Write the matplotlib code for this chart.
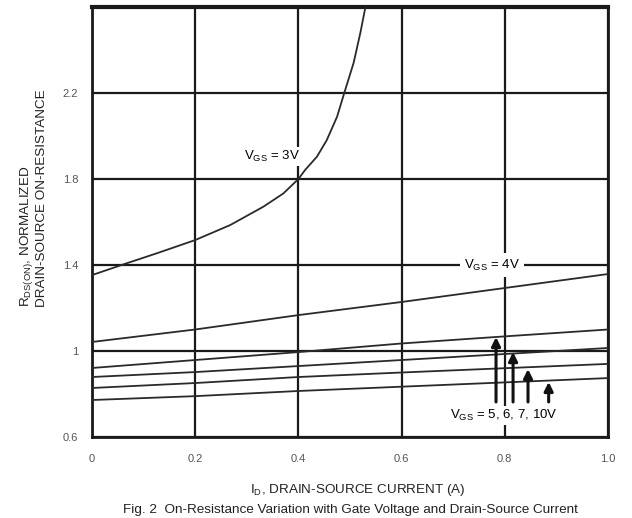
import matplotlib
matplotlib.use("Agg")
import matplotlib.pyplot as plt

plt.rcParams["font.family"] = ["Liberation Sans", "DejaVu Sans"]
plt.rcParams["mathtext.fontset"] = "custom"
plt.rcParams["mathtext.rm"] = "Liberation Sans"
plt.rcParams["mathtext.it"] = "Liberation Sans"

# VGS = 3V curve
x_3v = [0.0, 0.061, 0.125, 0.2, 0.268, 0.332, 0.371, 0.40, 0.413, 0.436,
        0.455, 0.475, 0.489, 0.507, 0.520, 0.530]
y_3v = [1.353, 1.403, 1.454, 1.516, 1.586, 1.671, 1.733, 1.80, 1.842, 1.904,
        1.981, 2.090, 2.201, 2.340, 2.479, 2.601]

# lower curves at ID = 0, 0.2 ... 1.0
x_lin = [0.0, 0.2, 0.4, 0.6, 0.8, 1.0]
y_4v = [1.042, 1.10, 1.167, 1.228, 1.293, 1.358]
y_5v = [0.921, 0.958, 0.995, 1.035, 1.068, 1.10]
y_6v = [0.879, 0.902, 0.930, 0.958, 0.986, 1.014]
y_7v = [0.828, 0.851, 0.879, 0.900, 0.920, 0.940]
y_10v = [0.772, 0.790, 0.814, 0.834, 0.854, 0.874]

# arrows pointing at VGS = 5, 6, 7, 10V
arrow_x = [0.783, 0.816, 0.845, 0.885]
arrow_tip = [1.065, 0.995, 0.916, 0.856]
arrow_tail = 0.763

xticks = [0, 0.2, 0.4, 0.6, 0.8, 1.0]
xtick_labels = ["0", "0.2", "0.4", "0.6", "0.8", "1.0"]
yticks = [0.6, 1.0, 1.4, 1.8, 2.2]
ytick_labels = ["0.6", "1", "1.4", "1.8", "2.2"]

fig = plt.figure(figsize=(6.32, 5.18), dpi=100)
ax = fig.add_axes([92 / 632, 81 / 518, 516 / 632, 430 / 518])

ax.set_xlim(0, 1.0)
ax.set_ylim(0.6, 2.6)
ax.set_xticks(xticks)
ax.set_xticklabels(xtick_labels)
ax.set_yticks(yticks)
ax.set_yticklabels(ytick_labels)
ax.tick_params(length=0, labelsize=8, labelcolor="#555555")
ax.tick_params(axis="x", pad=12)
ax.tick_params(axis="y", pad=10)
ax.grid(True, color="#1a1a1a", lw=1.6)
ax.set_axisbelow(True)
for side, sp in ax.spines.items():
    sp.set_color("#1a1a1a")
    sp.set_linewidth(2.0)
ax.spines["top"].set_linewidth(3.0)

line_kw = dict(color="#2a2a2a", lw=1.3, zorder=3)
ax.plot(x_3v, y_3v, **line_kw)
for yy in [y_4v, y_5v, y_6v, y_7v, y_10v]:
    ax.plot(x_lin, yy, **line_kw)

for xa, tip in zip(arrow_x, arrow_tip):
    ax.annotate("", xy=(xa, tip), xytext=(xa, arrow_tail),
                arrowprops=dict(arrowstyle="-|>", lw=2.2, color="#111111",
                                mutation_scale=13, shrinkA=0, shrinkB=0),
                zorder=4)

box = dict(facecolor="white", edgecolor="none", pad=1.5)
ax.text(0.348, 1.905, r"V$_{\mathrm{GS}}$ = 3V", fontsize=9.5, ha="center",
        va="center", bbox=box, zorder=5)
ax.text(0.775, 1.40, r"V$_{\mathrm{GS}}$ = 4V", fontsize=9.5, ha="center",
        va="center", bbox=dict(facecolor="white", edgecolor="none", pad=3),
        zorder=5)
ax.text(0.798, 0.70, r"V$_{\mathrm{GS}}$ = 5, 6, 7, 10V", fontsize=9.5,
        ha="center", va="center", bbox=box, zorder=5)

fig.text(33 / 632, (518 - 307) / 518,
         "R$_{\\mathrm{DS(ON)}}$, NORMALIZED\nDRAIN-SOURCE ON-RESISTANCE",
         rotation=90, ha="center", va="bottom", multialignment="left",
         fontsize=9.7, color="#222222", linespacing=1.2)
fig.text(0.566, 28 / 518, r"I$_{\mathrm{D}}$, DRAIN-SOURCE CURRENT (A)",
         ha="center", va="center", fontsize=9.7, color="#222222")
fig.text(0.555, 8 / 518,
         "Fig. 2  On-Resistance Variation with Gate Voltage and Drain-Source Current",
         ha="center", va="center", fontsize=9.7, color="#222222")

fig.savefig("out.png", dpi=100)
